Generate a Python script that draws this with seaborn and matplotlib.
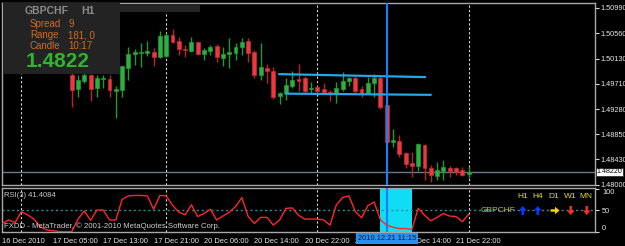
import numpy as np
import pandas as pd
import seaborn as sns
import matplotlib
matplotlib.use("Agg")
import matplotlib.pyplot as plt
from matplotlib.patches import Rectangle, FancyArrow
from matplotlib.transforms import blended_transform_factory, IdentityTransform

# ---------------- data ----------------
symbol = "GBPCHF"
timeframe = "H1"
first_candle = 11  # candles before this bar are hidden behind the info panel
opens = [1.4986, 1.4962, 1.4975, 1.4986, 1.4964, 1.4979, 1.4979, 1.4959, 1.4960, 1.4997,
         1.5021, 1.5023, 1.5023, 1.5024, 1.5016, 1.5018, 1.5053, 1.5043, 1.5030, 1.5026,
         1.5041, 1.5021, 1.5026, 1.5035, 1.5014, 1.5021, 1.5023, 1.5033, 1.5043, 1.5024,
         1.4986, 1.4997, 1.4992, 1.4950, 1.4955, 1.4967, 1.4979, 1.4981, 1.4962, 1.4965,
         1.4962, 1.4957, 1.4953, 1.4962, 1.4975, 1.4981, 1.4962, 1.4955, 1.4972, 1.4981,
         1.4935, 1.4872, 1.4874, 1.4854, 1.4837, 1.4832, 1.4867, 1.4828, 1.4815, 1.4823,
         1.4828, 1.4828, 1.4825, 1.4818]
highs = [1.4989, 1.4986, 1.4989, 1.4987, 1.4986, 1.4986, 1.4986, 1.4967, 1.5001, 1.5033,
         1.5030, 1.5040, 1.5043, 1.5031, 1.5060, 1.5057, 1.5063, 1.5050, 1.5036, 1.5050,
         1.5041, 1.5031, 1.5036, 1.5038, 1.5033, 1.5048, 1.5040, 1.5048, 1.5048, 1.5028,
         1.5040, 1.5004, 1.4999, 1.4957, 1.4981, 1.4992, 1.5004, 1.4984, 1.4974, 1.4967,
         1.4972, 1.4960, 1.4974, 1.4991, 1.4982, 1.4984, 1.4967, 1.4982, 1.4987, 1.4984,
         1.4935, 1.4894, 1.4884, 1.4855, 1.4855, 1.4871, 1.4869, 1.4834, 1.4839, 1.4842,
         1.4832, 1.4830, 1.4830, 1.4830]
lows = [1.4932, 1.4948, 1.4972, 1.4942, 1.4948, 1.4964, 1.4948, 1.4913, 1.4948, 1.4977,
        1.5002, 1.4999, 1.5018, 1.5001, 1.5014, 1.5016, 1.5040, 1.5019, 1.5016, 1.5024,
        1.5019, 1.5011, 1.5019, 1.5008, 1.5001, 1.4997, 1.5011, 1.5019, 1.5008, 1.4981,
        1.4977, 1.4972, 1.4945, 1.4937, 1.4943, 1.4964, 1.4959, 1.4955, 1.4955, 1.4957,
        1.4953, 1.4942, 1.4938, 1.4959, 1.4967, 1.4955, 1.4948, 1.4953, 1.4948, 1.4928,
        1.4871, 1.4864, 1.4847, 1.4828, 1.4813, 1.4823, 1.4808, 1.4805, 1.4808, 1.4808,
        1.4813, 1.4817, 1.4815, 1.4812]
closes = [1.4960, 1.4977, 1.4986, 1.4962, 1.4981, 1.4981, 1.4960, 1.4962, 1.5001, 1.5021,
          1.5024, 1.5024, 1.5026, 1.5016, 1.5052, 1.5053, 1.5041, 1.5030, 1.5028, 1.5041,
          1.5021, 1.5028, 1.5033, 1.5016, 1.5021, 1.5024, 1.5033, 1.5041, 1.5023, 1.4986,
          1.4999, 1.4992, 1.4948, 1.4955, 1.4969, 1.4977, 1.4975, 1.4959, 1.4964, 1.4959,
          1.4957, 1.4953, 1.4964, 1.4975, 1.4981, 1.4959, 1.4955, 1.4972, 1.4981, 1.4932,
          1.4872, 1.4876, 1.4852, 1.4835, 1.4832, 1.4869, 1.4828, 1.4817, 1.4825, 1.4830,
          1.4823, 1.4822, 1.4817, 1.4822]
rsi = [20, 28, 22, 47, 40, 30, 12, 5, 3, 1,
       0.5, 1, 30, 49, 27, 51, 51, 28, 28, 76,
       84, 85, 85, 84, 53, 85, 84, 62, 46, 40,
       63, 36, 43, 53, 28, 37, 46, 59, 80, 36,
       20, 34, 34, 16, 28, 55, 56, 39, 30, 30,
       30, 28, 16, 63, 80, 84, 48, 33, 61, 70,
       28, 16, 11, 8, 8, 6, 55, 39, 26, 34,
       43, 37, 36, 24, 41.4084]
price_ticks = [1.5099, 1.5056, 1.5013, 1.4971, 1.4928, 1.4885, 1.4843, 1.4800]
time_tick_bars = [0, 8, 16, 24, 32, 40, 48, 56, 64, 72]
time_tick_labels = ["16 Dec 2010", "17 Dec 05:00", "17 Dec 13:00", "17 Dec 21:00",
                    "20 Dec 06:00", "20 Dec 14:00", "20 Dec 22:00", "21 Dec 06:00",
                    "21 Dec 14:00", "21 Dec 22:00"]
day_separators = [3, 26, 50, 74]
trend_top = ([43.9, 67.1], [1.4987, 1.4982])
trend_bottom = ([45.0, 68.0], [1.4954, 1.4952])
vline_bar = 61.0
vline_label = "2010.12.21 11:15"
rsi_box = (59.95, 64.97)
bid = 1.4822
spread, range_txt, candle_time = "9", "181, 0", "10:17"
tf_labels = ["H1", "H4", "D1", "W1", "MN"]
tf_dirs = ["up", "up", "right", "down", "down"]
tf_colors = ["#1238ff", "#1238ff", "#ffd000", "#ff2a2a", "#ff2a2a"]

# ---------------- style ----------------
sns.set_style("dark")
plt.rcParams['font.family'] = ['Liberation Sans', 'DejaVu Sans']
W, H = 625, 246
fig = plt.figure(figsize=(W / 100, H / 100), dpi=100, facecolor="black")

def fx(px):
    return px / W

def fy(py):
    return 1 - py / H

ax = fig.add_axes([fx(2), fy(185), fx(593), 182 / H])
ax2 = fig.add_axes([fx(2), fy(232), fx(593), 44 / H])
XL = (-0.07, 94.06)
for a in (ax, ax2):
    a.set_facecolor("black")
    a.set_xlim(*XL)
    a.grid(False)
    for s in a.spines.values():
        s.set_color("#a8a8a8")
        s.set_linewidth(1)

ax.set_ylim(1.47996, 1.51072)
ax2.set_ylim(0, 102.3)

# candles
idx = np.arange(first_candle, first_candle + len(opens))
df = pd.DataFrame({"bar": idx, "open": opens, "high": highs, "low": lows, "close": closes})
up = df["close"] >= df["open"]
body_lo = np.minimum(df["open"], df["close"])
body_h = np.maximum(np.abs(df["close"] - df["open"]), 0.00014)
ax.vlines(df["bar"][up], df["low"][up], df["high"][up], color="#1f9a2f", lw=1, zorder=3)
ax.vlines(df["bar"][~up], df["low"][~up], df["high"][~up], color="#b8242c", lw=1, zorder=3)
ax.bar(df["bar"][up], body_h[up], bottom=body_lo[up], width=0.62, color="#2cb040",
       edgecolor="#1f9a2f", lw=0.5, zorder=4)
ax.bar(df["bar"][~up], body_h[~up], bottom=body_lo[~up], width=0.62, color="#ea3a40",
       edgecolor="#c82a30", lw=0.5, zorder=4)

# bid line, trend lines, separators, vertical line
ax.axhline(bid, color="#6a7a8a", lw=1, zorder=2)
ax.plot(*trend_top, color="#22a8e8", lw=1.6, zorder=5)
ax.plot(*trend_bottom, color="#22a8e8", lw=1.6, zorder=5)
for a in (ax, ax2):
    for d in day_separators:
        a.axvline(d, color="#d8d8d8", lw=0.8, ls=(0, (2, 2)), zorder=1)
    a.axvline(vline_bar, color="#1c7cff", lw=1.5, zorder=6)

# price axis
ax.yaxis.tick_right()
ax.set_yticks(price_ticks)
ax.set_yticklabels([f"{p:.5f}" for p in price_ticks])
ax.tick_params(axis="y", colors="#d8d8d8", labelsize=5.3, length=3, width=0.8, pad=1,
               labelcolor="#e8e8e8")
ax.set_xticks([])
ax.text(1.003, bid, f"{bid:.5f}", transform=blended_transform_factory(ax.transAxes, ax.transData),
        ha="left", va="center", fontsize=5.1, color="black",
        bbox=dict(boxstyle="square,pad=0.1", fc="white", ec="#303030", lw=0.6), clip_on=False)

# RSI panel
ax2.axvspan(*rsi_box, color="#10dcf4", zorder=0.5, lw=0)
ax2.axhline(50, color="#2f8c9c", lw=1, ls=(0, (1.5, 2)), zorder=1)
sns.lineplot(x=np.arange(len(rsi)), y=rsi, ax=ax2, color="#ff2626", lw=1, zorder=7)
ax2.yaxis.tick_right()
ax2.set_yticks([100, 50, 0])
ax2.set_yticklabels(["100", "50", "0"])
ax2.tick_params(axis="y", colors="#d8d8d8", labelsize=5.3, length=3, width=0.8, pad=2,
                labelcolor="#e8e8e8")
tl = ax2.get_yticklabels()
tl[0].set_va("top")
tl[2].set_va("bottom")
ax2.set_ylabel("")
ax2.set_xticks(time_tick_bars)
ax2.set_xticklabels(time_tick_labels, ha="left")
ax2.tick_params(axis="x", colors="#c8c8c8", labelsize=5.4, length=3, width=0.8, pad=1.5,
                labelcolor="#e8e8e8")
ax2.set_xlim(*XL)
bt = blended_transform_factory(ax2.transData, ax2.transAxes)
ax2.text(vline_bar, -0.06, vline_label, transform=bt, ha="center", va="top", fontsize=5.4,
         color="#101830", bbox=dict(boxstyle="square,pad=0.25", fc="#2890ee", ec="none"),
         clip_on=False, zorder=20)

ax2.text(0.004, 0.82, f"RSI(3) {rsi[-1]:.4f}", transform=ax2.transAxes, fontsize=5.5,
         color="#c8c8c8", va="center", ha="left")
ax2.text(0.004, 0.14, "FXDD - MetaTrader, © 2001-2010 MetaQuotes Software Corp.",
         transform=ax2.transAxes, fontsize=5.6, color="#d0d0d0", va="center", ha="left",
         zorder=8)

# multi-timeframe trend widget
fig.text(fx(498), fy(210.5), symbol, fontsize=6, color="#c4c428", ha="center", va="center")
lab_x = [522.5, 538, 554, 570, 585.5]
arr_x = [522.7, 537.7, 555, 570.7, 586.7]
ident = IdentityTransform()
for lx, axx, lab, dr, c in zip(lab_x, arr_x, tf_labels, tf_dirs, tf_colors):
    fig.text(fx(lx), fy(197), lab, fontsize=6, color="#e0e000", ha="center", va="center")
    cy = H - 210.5
    if dr == "up":
        arr = FancyArrow(axx, cy - 4.5, 0, 9, width=2.4, head_width=7.5, head_length=4.5,
                         length_includes_head=True, transform=ident, color=c, lw=0)
    elif dr == "down":
        arr = FancyArrow(axx, cy + 4.5, 0, -9, width=2.4, head_width=7.5, head_length=4.5,
                         length_includes_head=True, transform=ident, color=c, lw=0)
    else:
        arr = FancyArrow(axx - 4.5, cy, 9, 0, width=2.4, head_width=7.5, head_length=4.5,
                         length_includes_head=True, transform=ident, color=c, lw=0)
    arr.set_zorder(10)
    fig.add_artist(arr)

# info panel
fig.add_artist(Rectangle((fx(120), fy(12)), fx(80), 7 / H, transform=fig.transFigure,
                         fc="#242424", ec="none", zorder=1))
fig.add_artist(Rectangle((fx(3), fy(74)), fx(117), 71 / H, transform=fig.transFigure,
                         fc="#232323", ec="none", zorder=1))
fig.text(fx(25), fy(11), symbol, fontsize=7.5, color="#8c8c8c", weight="bold", va="center")
fig.text(fx(81), fy(11), timeframe, fontsize=7.5, color="#8c8c8c", weight="bold", va="center")
orange = "#d06a22"
for lab, val, yy in [("Spread", spread, 24), ("Range", range_txt, 35.5), ("Candle", candle_time, 46)]:
    fig.text(fx(30), fy(yy), lab, fontsize=7, color=orange, va="center")
    fig.text(fx(68.5), fy(yy), val, fontsize=7, color=orange, va="center")
fig.text(fx(26), fy(62), f"{bid:.4f}", fontsize=15, color="#2db52d", weight="bold", va="center")

fig.savefig("out.png", dpi=100, facecolor="black")
